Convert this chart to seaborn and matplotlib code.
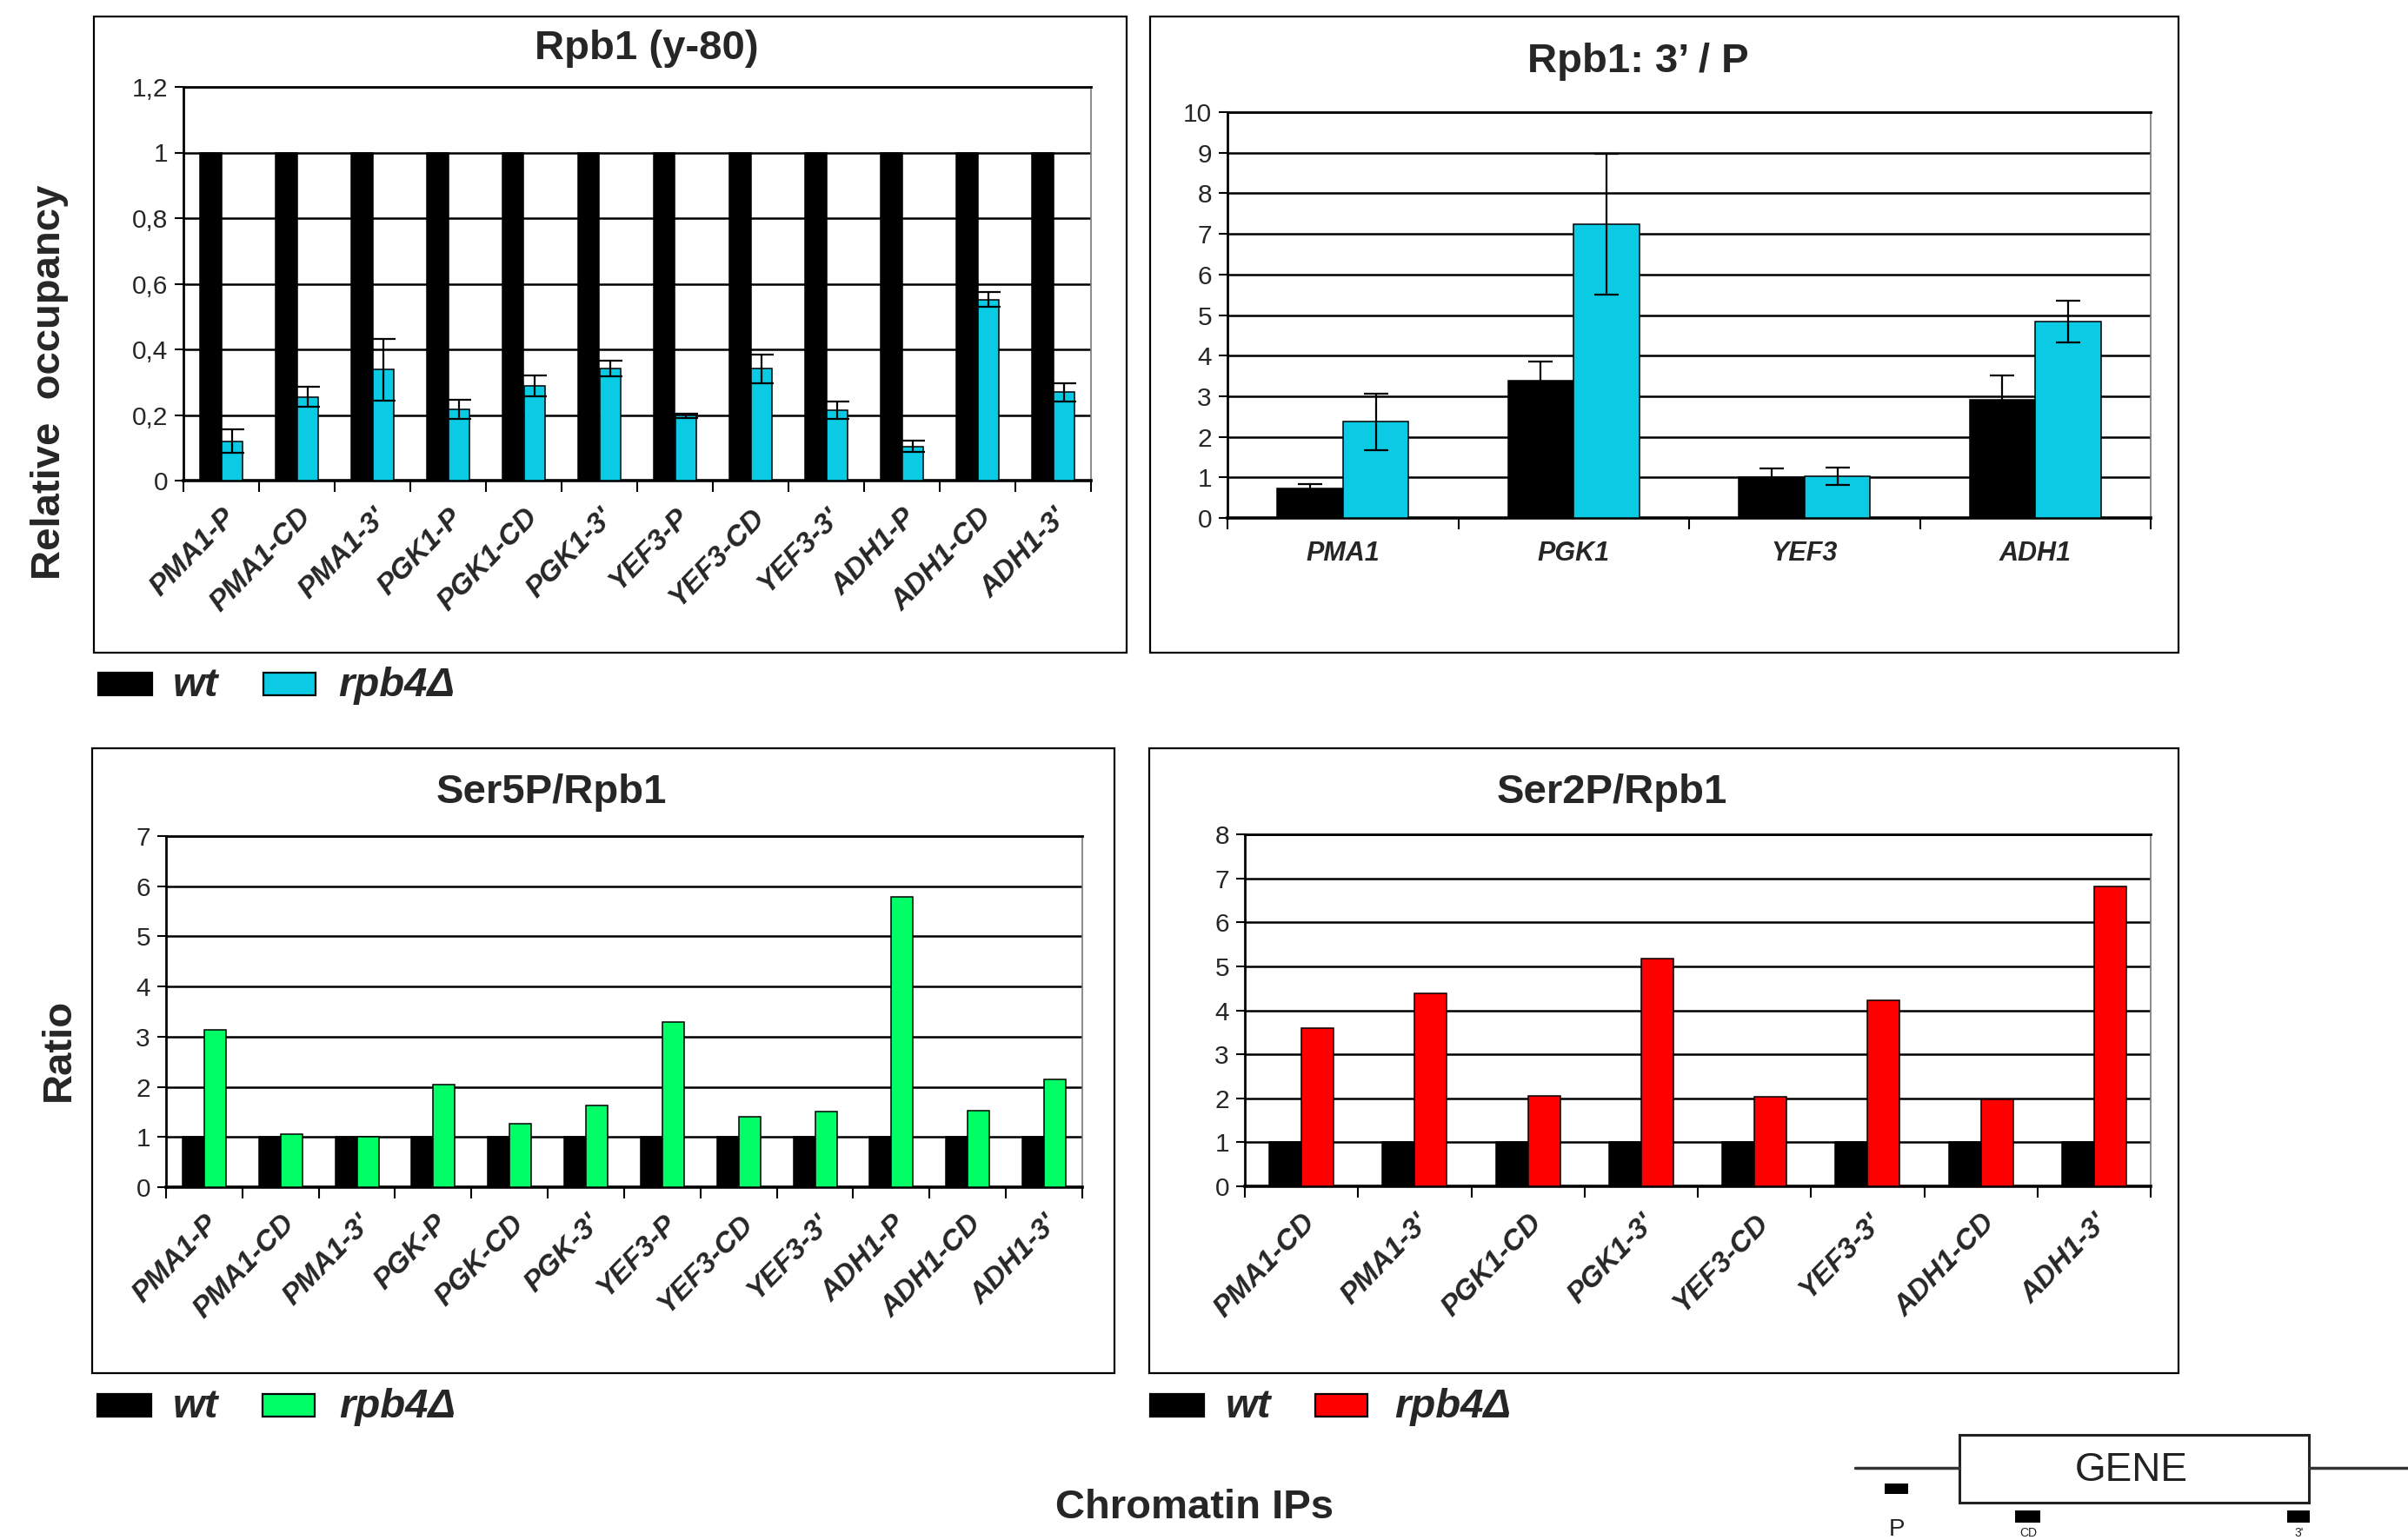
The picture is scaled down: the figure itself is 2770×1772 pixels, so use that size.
import matplotlib
matplotlib.use("Agg")
import matplotlib.pyplot as plt
import numpy as np
import pandas as pd
import seaborn as sns
from matplotlib.patches import Rectangle
from matplotlib.lines import Line2D
from matplotlib.ticker import FuncFormatter

# ---------------- data ----------------
strains = ["wt", "rpb4Δ"]

a_sites = ["PMA1-P", "PMA1-CD", "PMA1-3'", "PGK1-P", "PGK1-CD", "PGK1-3'",
           "YEF3-P", "YEF3-CD", "YEF3-3'", "ADH1-P", "ADH1-CD", "ADH1-3'"]
a_wt = [1, 1, 1, 1, 1, 1, 1, 1, 1, 1, 1, 1]
a_rpb4 = [0.12, 0.255, 0.338, 0.217, 0.289, 0.341, 0.198, 0.341, 0.214, 0.104, 0.552, 0.270]
a_rpb4_err = [0.036, 0.030, 0.094, 0.030, 0.031, 0.024, 0.006, 0.043, 0.026, 0.017, 0.023, 0.028]

b_genes = ["PMA1", "PGK1", "YEF3", "ADH1"]
b_wt = [0.73, 3.38, 1.00, 2.92]
b_wt_err = [0.10, 0.47, 0.23, 0.60]
b_rpb4 = [2.37, 7.24, 1.03, 4.84]
b_rpb4_err = [0.69, 1.74, 0.22, 0.52]

c_sites = ["PMA1-P", "PMA1-CD", "PMA1-3'", "PGK-P", "PGK-CD", "PGK-3'",
           "YEF3-P", "YEF3-CD", "YEF3-3'", "ADH1-P", "ADH1-CD", "ADH1-3'"]
c_wt = [1, 1, 1, 1, 1, 1, 1, 1, 1, 1, 1, 1]
c_rpb4 = [3.13, 1.06, 1.01, 2.04, 1.27, 1.63, 3.30, 1.41, 1.50, 5.79, 1.52, 2.15]

d_sites = ["PMA1-CD", "PMA1-3'", "PGK1-CD", "PGK1-3'",
           "YEF3-CD", "YEF3-3'", "ADH1-CD", "ADH1-3'"]
d_wt = [1, 1, 1, 1, 1, 1, 1, 1]
d_rpb4 = [3.59, 4.38, 2.05, 5.17, 2.03, 4.23, 1.97, 6.82]

titles = ["Rpb1 (y-80)", "Rpb1: 3’ / P", "Ser5P/Rpb1", "Ser2P/Rpb1"]
CYAN, GREEN, RED = "#0ACBE3", "#00FF66", "#FF0000"

# ---------------- figure ----------------
sns.set_style("white")
plt.rcParams["font.family"] = ["Liberation Sans", "DejaVu Sans"]

W, H, DPI = 2770, 1772, 100
fig = plt.figure(figsize=(W / DPI, H / DPI), dpi=DPI)


def fx(x):
    return x / W


def fy(y):
    return 1 - y / H


def px_axes(l, t, r, b):
    return fig.add_axes([fx(l), fy(b), (r - l) / W, (b - t) / H])


def frame(l, t, r, b, lw=1.6):
    fig.add_artist(Rectangle((fx(l), fy(b)), (r - l) / W, (b - t) / H,
                             transform=fig.transFigure, fill=False,
                             ec="black", lw=lw, zorder=0))


def ftext(x, y, s, **kw):
    fig.text(fx(x), fy(y), s, **kw)


def draw_panel(ax, cats, wt, mut, color, ymax, step, wt_err=None, mut_err=None,
               comma=False, rotate=True):
    n = len(cats)
    df = pd.DataFrame({
        "site": list(cats) * 2,
        "value": list(wt) + list(mut),
        "strain": [strains[0]] * n + [strains[1]] * n,
    })
    sns.barplot(data=df, x="site", y="value", hue="strain", order=cats,
                hue_order=strains, palette=["black", color], saturation=1,
                width=0.57, gap=0, edgecolor="black", linewidth=1.1,
                errorbar=None, legend=False, ax=ax, zorder=3)
    for cont, err in zip(ax.containers, [wt_err, mut_err]):
        if err is None:
            continue
        xs = [p.get_x() + p.get_width() / 2 for p in cont]
        ys = [p.get_height() for p in cont]
        ax.errorbar(xs, ys, yerr=err, fmt="none", ecolor="black",
                    elinewidth=1.6, capsize=10, capthick=1.6, zorder=4)
    ax.set_xlim(-0.5, n - 0.5)
    ax.set_ylim(0, ymax)
    ax.set_yticks(np.arange(0, ymax + step / 2, step))
    if comma:
        ax.yaxis.set_major_formatter(
            FuncFormatter(lambda v, p: ("%g" % round(v, 1)).replace(".", ",")))
    else:
        ax.yaxis.set_major_formatter(FuncFormatter(lambda v, p: "%g" % round(v, 1)))
    ax.yaxis.grid(True, color="black", lw=1.8)
    ax.xaxis.grid(False)
    ax.set_axisbelow(True)
    ax.set_xlabel("")
    ax.set_ylabel("")
    ax.set_xticks(range(n))
    if rotate:
        ax.set_xticklabels(cats, rotation=46, ha="right", va="top",
                           rotation_mode="anchor", fontsize=24,
                           fontweight="bold", fontstyle="italic")
    else:
        ax.set_xticklabels(cats, fontsize=22, fontweight="bold",
                           fontstyle="italic")
    ax.set_xticks(np.arange(-0.5, n, 1), minor=True)
    ax.tick_params(axis="x", which="major", length=0, pad=19)
    ax.tick_params(axis="x", which="minor", length=9, width=1.5,
                   direction="out", color="black", bottom=True)
    ax.tick_params(axis="y", length=7, width=1.5, direction="out",
                   color="black", labelsize=21.5, pad=6, left=True)
    for s in ["left", "bottom", "top"]:
        ax.spines[s].set_visible(True)
        ax.spines[s].set_color("black")
        ax.spines[s].set_linewidth(2.0)
    ax.spines["bottom"].set_linewidth(2.6)
    ax.spines["right"].set_visible(True)
    ax.spines["right"].set_color("#777777")
    ax.spines["right"].set_linewidth(1.2)
    ax.set_facecolor("white")


# panel frames
frame(108, 19, 1296, 751)
frame(1323, 19, 2506, 751)
frame(106, 861, 1282, 1580)
frame(1322, 861, 2506, 1580)

# panel A
axA = px_axes(211, 100, 1255, 553)
draw_panel(axA, a_sites, a_wt, a_rpb4, CYAN, 1.2, 0.2, mut_err=a_rpb4_err, comma=True)
# panel B
axB = px_axes(1412, 129, 2474, 596)
draw_panel(axB, b_genes, b_wt, b_rpb4, CYAN, 10, 1, wt_err=b_wt_err,
           mut_err=b_rpb4_err, rotate=False)
# panel C
axC = px_axes(191, 962, 1245, 1366)
draw_panel(axC, c_sites, c_wt, c_rpb4, GREEN, 7, 1)
# panel D
axD = px_axes(1432, 960, 2474, 1365)
draw_panel(axD, d_sites, d_wt, d_rpb4, RED, 8, 1)

# titles
tkw = dict(fontsize=34, fontweight="bold", ha="center", va="baseline")
ftext(744, 68, titles[0], **tkw)
ftext(1884, 83, titles[1], **tkw)
ftext(634, 924, titles[2], **tkw)
ftext(1854, 924, titles[3], **tkw)

# y labels
ftext(57, 440, "Relative  occupancy", fontsize=34, fontweight="bold",
      rotation=90, ha="center", va="center")
ftext(68, 1208, "Ratio", fontsize=34, fontweight="bold",
      rotation=90, ha="center", va="center")


# legends
def legend_row(x_black, x_wt, x_col, x_mut, y_top, color, wblack=62, wcol=60, h=26):
    for x0, w, c in [(x_black, wblack, "black"), (x_col, wcol, color)]:
        fig.add_artist(Rectangle((fx(x0), fy(y_top + h)), w / W, h / H,
                                 transform=fig.transFigure, fc=c, ec="black", lw=1.6))
    lkw = dict(fontsize=34, fontweight="bold", fontstyle="italic",
               ha="left", va="baseline")
    ftext(x_wt, y_top + h + 1, strains[0], **lkw)
    ftext(x_mut, y_top + h + 1, strains[1], **lkw)


legend_row(113, 199, 303, 389, 774, CYAN)
legend_row(112, 199, 302, 390, 1604, GREEN)
legend_row(1323, 1410, 1513, 1604, 1604, RED)

# bottom label
ftext(1374, 1747, "Chromatin IPs", fontsize=34, fontweight="bold",
      ha="center", va="baseline")

# gene diagram
gcol = "#222222"
fig.add_artist(Line2D([fx(2134), fx(2254)], [fy(1689), fy(1689)],
                      transform=fig.transFigure, color="#333333", lw=2.5))
fig.add_artist(Line2D([fx(2656), fx(2770)], [fy(1689), fy(1689)],
                      transform=fig.transFigure, color="#333333", lw=2.5))
fig.add_artist(Rectangle((fx(2254), fy(1729)), 402 / W, 78 / H,
                         transform=fig.transFigure, fc="white", ec=gcol, lw=2.2))
ftext(2452, 1692, "GENE", fontsize=33, color=gcol, ha="center", va="center")
for (x0, x1, y0, y1) in [(2168, 2195, 1707, 1719), (2318, 2347, 1738, 1752),
                         (2631, 2657, 1738, 1752)]:
    fig.add_artist(Rectangle((fx(x0), fy(y1)), (x1 - x0) / W, (y1 - y0) / H,
                             transform=fig.transFigure, fc="black", ec="black", lw=0))
ftext(2182, 1767, "P", fontsize=20, color=gcol, ha="center", va="baseline")
ftext(2333, 1768, "CD", fontsize=10, color=gcol, ha="center", va="baseline")
ftext(2645, 1768, "3'", fontsize=10, color=gcol, ha="center", va="baseline")

fig.savefig("out.png", dpi=DPI, facecolor="white")
